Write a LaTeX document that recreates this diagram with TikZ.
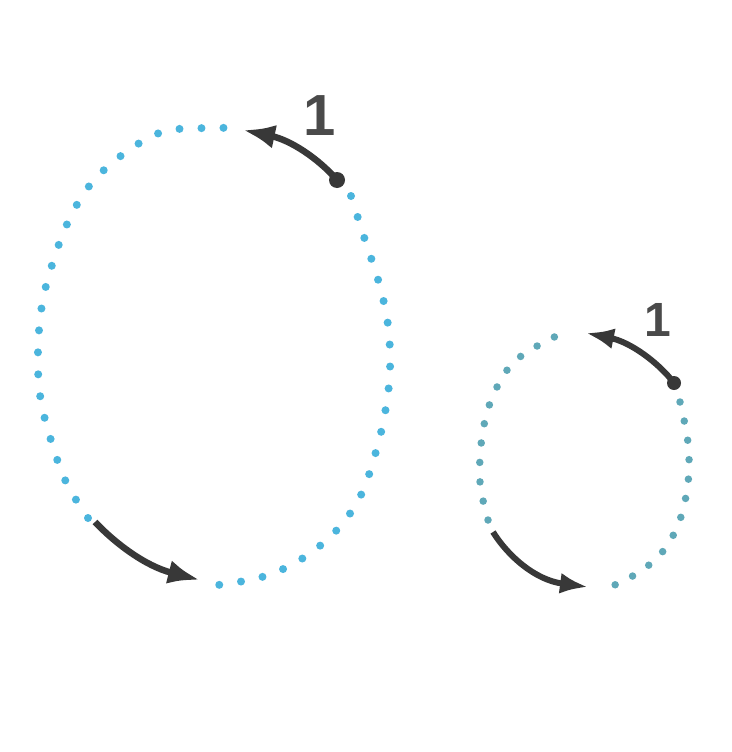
\documentclass[tikz,border=0pt]{standalone}
\usepackage{fontspec}
\setmainfont{Liberation Sans}
\usetikzlibrary{arrows.meta}
\definecolor{bigdot}{HTML}{4BB5DD}
\definecolor{smalldot}{HTML}{5FA8B8}
\definecolor{arrowgray}{HTML}{383838}
\definecolor{labelgray}{HTML}{4A4A4A}
\tikzset{
  bigdots/.style={draw=bigdot, line width=8pt, line cap=round, dash pattern=on 0pt off 22pt},
  smalldots/.style={draw=smalldot, line width=7.5pt, line cap=round, dash pattern=on 0pt off 19.5pt},
  turnarrow/.style={draw=arrowgray, line width=6.5pt, -{Latex[length=32pt,width=24pt]}},
  turnarrowsmall/.style={draw=arrowgray, line width=6pt, -{Latex[length=28pt,width=21pt]}},
  startdot/.style={circle, fill=arrowgray, inner sep=0pt, minimum size=16pt},
  numlabel/.style={text=labelgray, inner sep=0pt, font=\fontsize{58}{58}\selectfont\bfseries},
  numlabelsmall/.style={text=labelgray, inner sep=0pt, font=\fontsize{48}{48}\selectfont\bfseries}
}
\begin{document}
\begin{tikzpicture}[x=1pt,y=-1pt]
\useasboundingbox[fill=white] (0,0) rectangle (731,752);
% big oval
\draw[bigdots] plot[smooth, tension=0.6] coordinates {(351,196) (365,240) (379,283) (388,325) (390,370) (385,413) (375,455) (360,497) (335,532) (300,560) (262,577) (218,585)};
\draw[bigdots] plot[smooth, tension=0.6] coordinates {(88,518) (66,482) (50,437) (40,395) (38,350) (42,305) (52,265) (68,222) (90,185) (122,155) (162,132) (205,128) (227,128)};
\node[startdot] (b1s) at (337,180) {};
\coordinate (b1e) at (243,130);
\draw[turnarrow] (b1s.center) .. controls (318,158) and (290,140) .. (b1e);
\coordinate (b2s) at (95,522);
\coordinate (b2e) at (200,580);
\draw[turnarrow] (b2s) .. controls (115,543) and (145,566) .. (b2e);
\node[numlabel] (bl) at (320,116) {1};
% small oval
\draw[smalldots] plot[smooth, tension=0.6] coordinates {(680,402) (688,443) (688,483) (678,525) (657,558) (622,582) (602,587)};
\draw[smalldots] plot[smooth, tension=0.6] coordinates {(488,520) (480,482) (482,437) (492,398) (513,363) (548,340) (567,333)};
\node[startdot, minimum size=14pt] (s1s) at (674,383) {};
\coordinate (s1e) at (586,333);
\draw[turnarrowsmall] (s1s.center) .. controls (658,362) and (630,342) .. (s1e);
\coordinate (s2s) at (493,532);
\coordinate (s2e) at (588,587);
\draw[turnarrowsmall] (s2s) .. controls (508,556) and (535,580) .. (s2e);
\node[numlabelsmall] (sl) at (658,320) {1};
\end{tikzpicture}
\end{document}
